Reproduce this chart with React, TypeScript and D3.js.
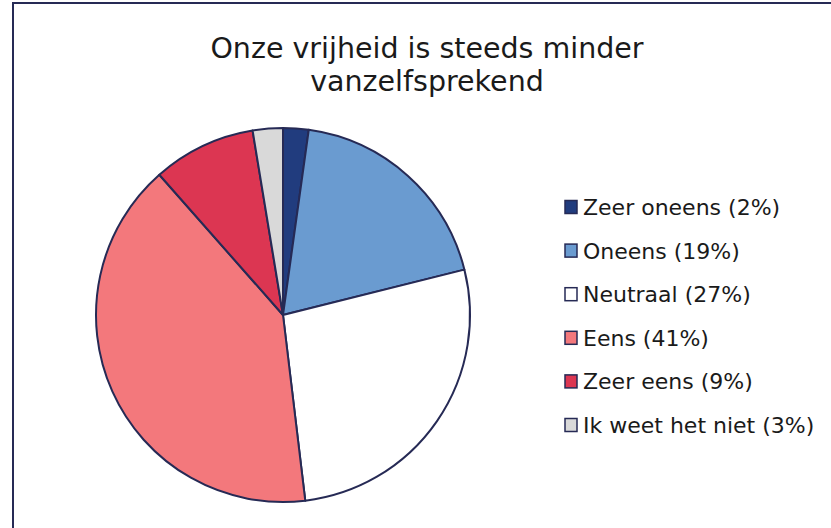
import React from "react";
import * as d3 from "d3";

const categories = ["Zeer oneens", "Oneens", "Neutraal", "Eens", "Zeer eens", "Ik weet het niet"];
const values = [2.2, 18.9, 27.0, 40.4, 8.9, 2.6];
const legendLabels = ["Zeer oneens (2%)", "Oneens (19%)", "Neutraal (27%)", "Eens (41%)", "Zeer eens (9%)", "Ik weet het niet (3%)"];
const colors = ["#213C7E", "#6A9BD0", "#FFFFFF", "#F3787C", "#DC3652", "#D9D9D9"];
const titleLines = ["Onze vrijheid is steeds minder", "vanzelfsprekend"];

export default function App() {
  const W = 831, H = 528;
  const cx = 283, cy = 315, r = 187;
  const pie = d3.pie<number>().sort(null).value((d) => d)(values);
  const arc = d3.arc<d3.PieArcDatum<number>>().innerRadius(0).outerRadius(r);
  const stroke = "#262A55";
  const font = "'DejaVu Sans', sans-serif";
  return (
    <svg width={W} height={H} style={{ position: "absolute", left: 0, top: 0 }}>
      <rect x={0} y={0} width={W} height={H} fill="#fff" />
      <path d={`M13,${H + 5} L13,3 L${W + 5},3`} fill="none" stroke={stroke} strokeWidth={2} />
      {titleLines.map((t, i) => (
        <text key={i} x={427} y={58 + i * 33} textAnchor="middle" fontFamily={font} fontSize={28.5} fill="#1a1a1a">
          {t}
        </text>
      ))}
      <g transform={`translate(${cx},${cy})`}>
        {pie.map((p, i) => (
          <path key={categories[i]} d={arc(p) || ""} fill={colors[i]} stroke={stroke} strokeWidth={2} strokeLinejoin="round" />
        ))}
      </g>
      {legendLabels.map((l, i) => {
        const y = 207 + i * 43.6;
        return (
          <g key={l}>
            <rect x={565} y={y - 6.5} width={12} height={13} fill={colors[i]} stroke={stroke} strokeWidth={1.5} />
            <text x={583} y={y + 8} fontFamily={font} fontSize={22} fill="#1a1a1a">
              {l}
            </text>
          </g>
        );
      })}
    </svg>
  );
}
